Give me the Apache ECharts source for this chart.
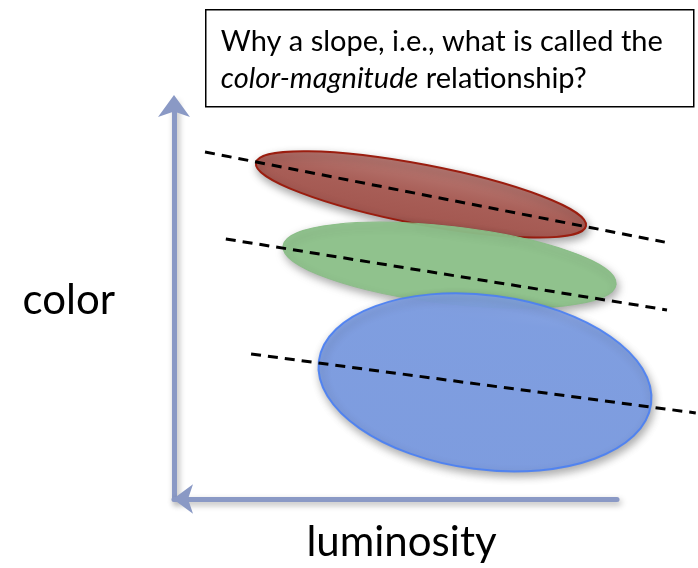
<!DOCTYPE html>
<html>
<head>
<meta charset="utf-8">
<script src="https://cdn.jsdelivr.net/npm/echarts@6/dist/echarts.min.js"></script>
<style>
  html, body { margin: 0; padding: 0; background: #fff; }
  #main { width: 698px; height: 568px; }
</style>
</head>
<body>
<div id="main"></div>
<script>
// the three clouds: tips of the long axis + half thickness (axis units)
var cloudTipA = [[1.85, 8.45], [2.46, 6.36], [3.27, 3.47]];
var cloudTipB = [[9.30, 6.86], [9.98, 5.39], [10.77, 2.39]];
var cloudHalfWidth = [0.75, 0.97, 2.19];

// dashed trend lines through each cloud
var trendStart = [[0.70, 8.73], [1.17, 6.56], [1.74, 3.69]];
var trendEnd = [[11.08, 6.48], [11.13, 4.79], [11.78, 2.22]];

var question = 'Why a slope, i.e., what is called the';
var questionItalic = 'color-magnitude';
var questionTail = ' relationship?';

var cloudStyles = [
  {
    fill: new echarts.graphic.LinearGradient(0, 0, 0, 1, [
      { offset: 0, color: '#b97a74' },
      { offset: 0.5, color: '#a85e57' },
      { offset: 1, color: '#a2564f' }
    ]),
    stroke: '#9b1d0f', lineWidth: 2, opacity: 1
  },
  { fill: '#8ec38b', stroke: '#88bd85', lineWidth: 1, opacity: 0.95 },
  {
    fill: new echarts.graphic.LinearGradient(0, 0, 0, 1, [
      { offset: 0, color: '#86a5ea' },
      { offset: 0.15, color: '#7a9ce5' },
      { offset: 1, color: '#789ae4' }
    ]),
    stroke: '#4a80f3', lineWidth: 2, opacity: 0.9
  }
];

var cloudData = [];
for (var i = 0; i < cloudTipA.length; i++) {
  cloudData.push([cloudTipA[i][0], cloudTipA[i][1], cloudTipB[i][0], cloudTipB[i][1], cloudHalfWidth[i]]);
}

function renderCloud(params, api) {
  var p1 = api.coord([api.value(0), api.value(1)]);
  var p2 = api.coord([api.value(2), api.value(3)]);
  var dx = p2[0] - p1[0], dy = p2[1] - p1[1];
  var a = Math.sqrt(dx * dx + dy * dy) / 2;
  var b = api.size([0, api.value(4)])[1];
  var st = cloudStyles[params.dataIndex];
  return {
    type: 'ellipse',
    x: (p1[0] + p2[0]) / 2,
    y: (p1[1] + p2[1]) / 2,
    rotation: -Math.atan2(dy, dx),
    shape: { cx: 0, cy: 0, rx: a, ry: b },
    style: {
      fill: st.fill,
      stroke: st.stroke,
      lineWidth: st.lineWidth,
      opacity: st.opacity,
      shadowColor: 'rgba(0,0,0,0.35)',
      shadowBlur: 8,
      shadowOffsetX: 2,
      shadowOffsetY: 4
    }
  };
}

var series = [{
  type: 'custom',
  renderItem: renderCloud,
  data: cloudData,
  clip: false,
  silent: true,
  z: 2
}];

// trend lines live on a wider twin grid (same scale) so they run past the arrow
for (var k = 0; k < trendStart.length; k++) {
  series.push({
    type: 'line',
    xAxisIndex: 1,
    yAxisIndex: 1,
    data: [trendStart[k], trendEnd[k]],
    symbol: 'none',
    clip: false,
    silent: true,
    z: 3,
    lineStyle: { color: '#000', width: 3, type: [10, 7] }
  });
}

var axisLineStyle = {
  color: '#8a99c5',
  width: 5,
  shadowColor: 'rgba(0,0,0,0.3)',
  shadowBlur: 6,
  shadowOffsetX: 2,
  shadowOffsetY: 3
};

var hidden = {
  axisLine: { show: false }, axisTick: { show: false },
  axisLabel: { show: false }, splitLine: { show: false }
};

var myChart = echarts.init(document.getElementById('main'));
var option = {
  backgroundColor: '#fff',
  animation: false,
  grid: [
    { left: 174, right: 81, top: 101, bottom: 66 },
    { left: 174, right: 0, top: 101, bottom: 66 }
  ],
  xAxis: [{
    type: 'value', min: 0, max: 10, gridIndex: 0,
    name: 'luminosity',
    nameLocation: 'middle',
    nameGap: 22,
    nameTextStyle: { fontFamily: 'Lato', fontSize: 42, color: '#000', padding: [0, 0, 0, 12] },
    axisLine: { show: true, symbol: ['arrow', 'none'], symbolSize: [22, 20], symbolOffset: [-1, 0], lineStyle: axisLineStyle },
    axisTick: { show: false }, axisLabel: { show: false }, splitLine: { show: false }
  }, Object.assign({ type: 'value', min: 0, max: 11.83, gridIndex: 1 }, hidden)],
  yAxis: [{
    type: 'value', min: 0, max: 10, gridIndex: 0,
    name: 'color',
    nameLocation: 'middle',
    nameRotate: 0,
    nameGap: 59,
    nameTextStyle: { fontFamily: 'Lato', fontSize: 42, color: '#000' },
    axisLine: { show: true, symbol: ['none', 'arrow'], symbolSize: [24, 22], symbolOffset: [0, 6], lineStyle: axisLineStyle },
    axisTick: { show: false }, axisLabel: { show: false }, splitLine: { show: false }
  }, Object.assign({ type: 'value', min: 0, max: 10, gridIndex: 1 }, hidden)],
  graphic: [{
    type: 'group',
    left: 205,
    top: 9,
    children: [{
      type: 'rect',
      shape: { x: 0, y: 0, width: 488, height: 97 },
      style: { fill: '#fff', stroke: '#000', lineWidth: 1.5 }
    }, {
      type: 'text',
      x: 15,
      y: 13,
      style: {
        text: question + '\n{i|' + questionItalic + '}' + questionTail,
        fontFamily: 'Lato',
        fontSize: 29,
        lineHeight: 37,
        fill: '#000',
        rich: {
          i: { fontFamily: 'Lato', fontSize: 29, fontStyle: 'italic', lineHeight: 37, fill: '#000' }
        }
      }
    }]
  }],
  series: series
};
myChart.setOption(option);
</script>
</body>
</html>
